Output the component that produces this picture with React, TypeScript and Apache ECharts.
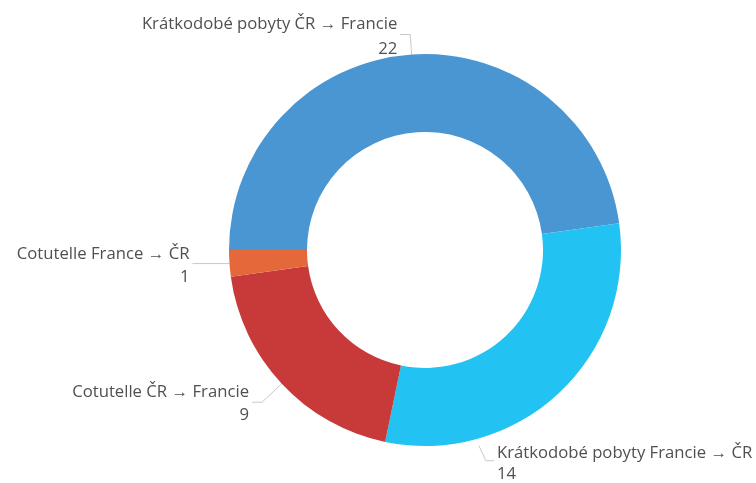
import React, { useEffect, useRef } from "react";
import * as echarts from "echarts";

const categories = [
  "Krátkodobé pobyty ČR → Francie",
  "Krátkodobé pobyty Francie → ČR",
  "Cotutelle ČR → Francie",
  "Cotutelle France → ČR",
];
const values = [22, 14, 9, 1];
const colors = ["#4a96d2", "#22c3f3", "#c83a3a", "#e4683a"];

const CENTER: [number, number] = [425, 250];
const R_INNER = 118;
const R_OUTER = 196;

const lineTweaks: Record<number, { length: number; length2: number }> = {
  2: { length: 27, length2: 10 },
  3: { length: 3, length2: 34 },
};

export default function App() {
  const ref = useRef<HTMLDivElement>(null);
  useEffect(() => {
    if (!ref.current) return;
    const chart = echarts.init(ref.current, undefined, { renderer: "svg" });
    chart.setOption({
      animation: false,
      color: colors,
      series: [
        {
          type: "pie",
          center: CENTER,
          radius: [R_INNER, R_OUTER],
          startAngle: 180,
          clockwise: true,
          avoidLabelOverlap: false,
          data: categories.map((name, i) => ({
            name,
            value: values[i],
            labelLine: lineTweaks[i],
            label: i === 1 ? { lineHeight: 21 } : i === 0 ? { lineHeight: 25 } : undefined,
          })),
          label: {
            show: true,
            position: "outside",
            formatter: "{b}\n{c}",
            fontFamily: "Open Sans",
            fontSize: 16.7,
            lineHeight: 23,
            color: "#505050",
            overflow: "none",
            distanceToLabelLine: 3,
          },
          labelLine: {
            show: true,
            length: 20,
            length2: 10,
            lineStyle: { color: "#c8c8c8", width: 1 },
          },
          labelLayout: (params: any) => {
            if (params.dataIndex !== 1) return {};
            // label for the lower-right slice sits beneath the ring
            const ang = (74.6 * Math.PI) / 180;
            const r = R_OUTER + 7;
            const p0 = [CENTER[0] + r * Math.cos(ang), CENTER[1] + r * Math.sin(ang)];
            const p1 = [p0[0] + 7, p0[1] + 15];
            const p2 = [p1[0] + 8, p1[1]];
            return {
              x: p2[0] + 3,
              y: p2[1] + 1,
              align: "left",
              verticalAlign: "middle",
              labelLinePoints: [p0, p1, p2],
            };
          },
          itemStyle: { borderWidth: 0 },
          emphasis: { disabled: true },
        },
      ],
    });
    return () => chart.dispose();
  }, []);
  return (
    <div
      ref={ref}
      style={{ position: "fixed", left: 0, top: 0, width: 756, height: 483 }}
    />
  );
}
